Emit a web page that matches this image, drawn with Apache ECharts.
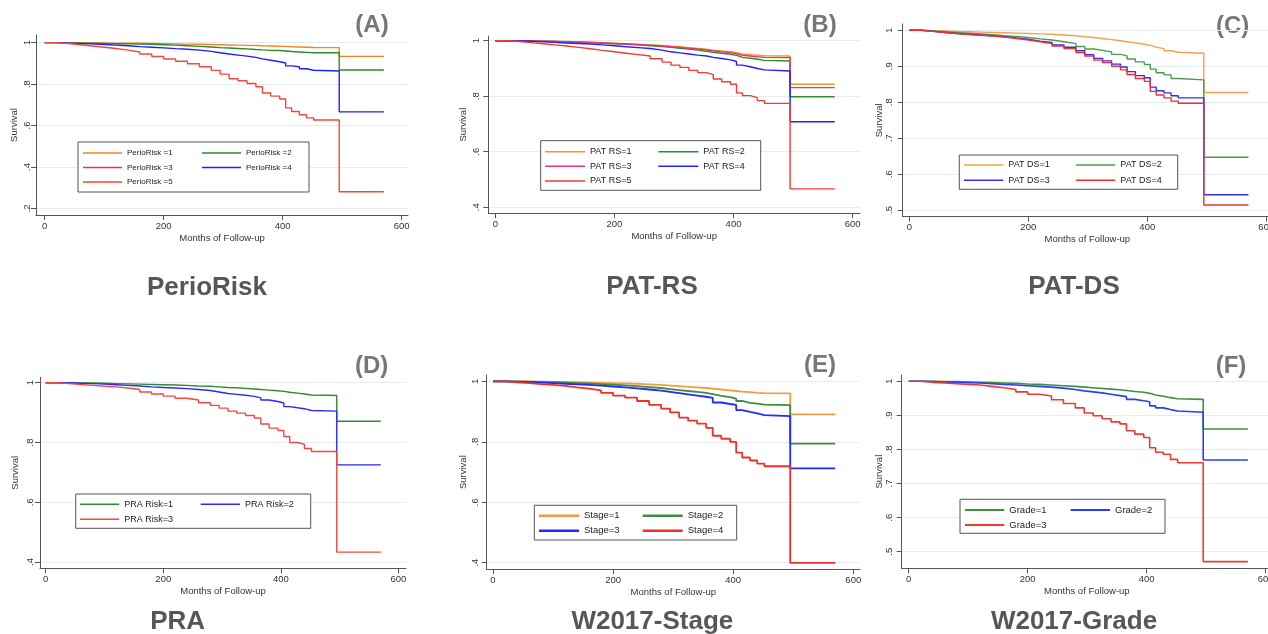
<!DOCTYPE html>
<html>
<head>
<meta charset="utf-8">
<title>Kaplan-Meier survival by periodontal risk tools</title>
<script src="https://cdn.jsdelivr.net/npm/echarts@6/dist/echarts.min.js"></script>
<style>
html, body { margin: 0; padding: 0; background: #fff; }
#chart { width: 1268px; height: 634px; }
</style>
</head>
<body>
<div id="chart"></div>
<script>
// months of follow-up at which every curve is read (step points)
const months = [0, 20, 40, 60, 80, 100, 120, 140, 160, 180, 200, 220, 240, 260, 280, 295, 310, 325, 340, 355, 366, 380, 395, 405, 415, 428, 440, 452, 495, 570];

// (A) PerioRisk
const perioRisk1 = [1, 1, 0.999, 0.999, 0.998, 0.998, 0.997, 0.997, 0.996, 0.995, 0.994, 0.993, 0.992, 0.991, 0.99, 0.989, 0.988, 0.987, 0.986, 0.985, 0.984, 0.983, 0.982, 0.98, 0.979, 0.978, 0.977, 0.976, 0.934, 0.934];
const perioRisk2 = [1, 0.999, 0.998, 0.997, 0.996, 0.995, 0.994, 0.993, 0.992, 0.99, 0.988, 0.985, 0.982, 0.979, 0.976, 0.974, 0.972, 0.97, 0.967, 0.965, 0.963, 0.962, 0.96, 0.957, 0.955, 0.953, 0.951, 0.951, 0.868, 0.868];
const perioRisk3 = []; // listed in the legend, no curve visible
const perioRisk4 = [1, 0.998, 0.996, 0.994, 0.991, 0.988, 0.985, 0.981, 0.978, 0.975, 0.971, 0.968, 0.964, 0.958, 0.951, 0.945, 0.94, 0.935, 0.929, 0.922, 0.915, 0.908, 0.902, 0.888, 0.884, 0.874, 0.867, 0.863, 0.666, 0.666];
const perioRisk5 = [1, 0.996, 0.99, 0.984, 0.978, 0.972, 0.964, 0.955, 0.945, 0.933, 0.921, 0.91, 0.898, 0.884, 0.866, 0.848, 0.826, 0.816, 0.803, 0.787, 0.757, 0.742, 0.728, 0.685, 0.668, 0.652, 0.637, 0.627, 0.28, 0.28];

// (B) PAT-RS
const patRs1 = [1, 1, 0.999, 0.999, 0.998, 0.997, 0.996, 0.995, 0.993, 0.991, 0.989, 0.987, 0.985, 0.983, 0.98, 0.978, 0.975, 0.972, 0.969, 0.966, 0.963, 0.96, 0.957, 0.952, 0.95, 0.948, 0.946, 0.945, 0.843, 0.843];
const patRs2 = [1, 1, 0.999, 0.998, 0.997, 0.996, 0.995, 0.993, 0.991, 0.989, 0.987, 0.985, 0.982, 0.979, 0.976, 0.973, 0.97, 0.966, 0.962, 0.958, 0.955, 0.951, 0.947, 0.94, 0.937, 0.933, 0.929, 0.927, 0.798, 0.798];
const patRs3 = [1, 1, 0.999, 0.998, 0.997, 0.996, 0.995, 0.994, 0.992, 0.99, 0.988, 0.986, 0.984, 0.981, 0.978, 0.976, 0.973, 0.97, 0.967, 0.963, 0.96, 0.957, 0.953, 0.947, 0.945, 0.942, 0.94, 0.939, 0.831, 0.831];
const patRs4 = [1, 0.999, 0.998, 0.996, 0.994, 0.992, 0.99, 0.988, 0.985, 0.982, 0.978, 0.975, 0.972, 0.966, 0.96, 0.956, 0.952, 0.948, 0.945, 0.94, 0.936, 0.931, 0.925, 0.912, 0.906, 0.9, 0.895, 0.891, 0.708, 0.708];
const patRs5 = [1, 0.997, 0.993, 0.989, 0.985, 0.981, 0.976, 0.971, 0.965, 0.96, 0.955, 0.95, 0.945, 0.935, 0.923, 0.912, 0.904, 0.893, 0.885, 0.878, 0.862, 0.852, 0.843, 0.812, 0.802, 0.795, 0.784, 0.774, 0.466, 0.466];

// (C) PAT-DS
const patDs1 = [1, 0.999, 0.998, 0.997, 0.996, 0.995, 0.994, 0.993, 0.992, 0.991, 0.99, 0.989, 0.987, 0.985, 0.982, 0.98, 0.977, 0.974, 0.971, 0.968, 0.965, 0.961, 0.958, 0.953, 0.949, 0.943, 0.939, 0.936, 0.827, 0.827];
const patDs2 = [1, 0.998, 0.996, 0.994, 0.992, 0.99, 0.988, 0.985, 0.983, 0.98, 0.976, 0.973, 0.968, 0.963, 0.955, 0.948, 0.944, 0.94, 0.933, 0.929, 0.92, 0.912, 0.905, 0.892, 0.882, 0.876, 0.866, 0.862, 0.647, 0.647];
const patDs3 = [1, 0.997, 0.994, 0.991, 0.989, 0.987, 0.985, 0.982, 0.979, 0.975, 0.97, 0.966, 0.959, 0.953, 0.943, 0.932, 0.922, 0.915, 0.906, 0.898, 0.885, 0.874, 0.868, 0.842, 0.832, 0.826, 0.818, 0.812, 0.5425, 0.5425];
const patDs4 = [1, 0.997, 0.994, 0.991, 0.988, 0.986, 0.984, 0.981, 0.977, 0.973, 0.968, 0.963, 0.956, 0.949, 0.938, 0.928, 0.917, 0.91, 0.9, 0.89, 0.877, 0.866, 0.858, 0.83, 0.82, 0.812, 0.803, 0.797, 0.514, 0.514];

// (D) PRA
const praRisk1 = [1, 1, 0.999, 0.999, 0.998, 0.997, 0.996, 0.995, 0.994, 0.993, 0.992, 0.991, 0.989, 0.988, 0.986, 0.984, 0.983, 0.981, 0.979, 0.977, 0.975, 0.973, 0.971, 0.968, 0.965, 0.962, 0.959, 0.957, 0.871, 0.871];
const praRisk2 = [1, 0.999, 0.998, 0.997, 0.995, 0.993, 0.991, 0.989, 0.986, 0.984, 0.982, 0.98, 0.977, 0.974, 0.969, 0.964, 0.961, 0.958, 0.954, 0.949, 0.942, 0.937, 0.932, 0.92, 0.916, 0.913, 0.907, 0.905, 0.725, 0.725];
const praRisk3 = [1, 0.997, 0.994, 0.991, 0.988, 0.986, 0.982, 0.977, 0.969, 0.962, 0.955, 0.948, 0.942, 0.933, 0.924, 0.915, 0.905, 0.898, 0.89, 0.882, 0.862, 0.848, 0.84, 0.82, 0.8, 0.794, 0.78, 0.77, 0.433, 0.433];

// (E) W2017-Stage
const stage1 = [1, 1, 0.999, 0.999, 0.998, 0.998, 0.997, 0.996, 0.995, 0.994, 0.993, 0.992, 0.99, 0.988, 0.986, 0.984, 0.982, 0.98, 0.978, 0.976, 0.973, 0.97, 0.968, 0.966, 0.964, 0.962, 0.961, 0.96, 0.891, 0.891];
const stage2 = [1, 0.999, 0.999, 0.998, 0.997, 0.996, 0.994, 0.993, 0.991, 0.989, 0.987, 0.984, 0.981, 0.978, 0.974, 0.971, 0.968, 0.965, 0.962, 0.958, 0.952, 0.948, 0.943, 0.935, 0.929, 0.926, 0.923, 0.921, 0.794, 0.794];
const stage3 = [1, 0.999, 0.998, 0.996, 0.994, 0.992, 0.99, 0.988, 0.986, 0.983, 0.98, 0.977, 0.973, 0.969, 0.965, 0.961, 0.957, 0.953, 0.949, 0.945, 0.93, 0.925, 0.922, 0.905, 0.899, 0.894, 0.888, 0.885, 0.712, 0.712];
const stage4 = [1, 0.997, 0.994, 0.991, 0.988, 0.985, 0.98, 0.976, 0.97, 0.962, 0.953, 0.946, 0.935, 0.922, 0.91, 0.897, 0.88, 0.87, 0.86, 0.846, 0.82, 0.81, 0.8, 0.764, 0.748, 0.738, 0.728, 0.719, 0.399, 0.399];

// (F) W2017-Grade
const grade1 = [1, 1, 0.999, 0.999, 0.998, 0.997, 0.996, 0.995, 0.994, 0.992, 0.991, 0.989, 0.987, 0.985, 0.983, 0.981, 0.979, 0.977, 0.975, 0.973, 0.97, 0.968, 0.965, 0.96, 0.956, 0.952, 0.949, 0.947, 0.86, 0.86];
const grade2 = [1, 0.999, 0.998, 0.997, 0.996, 0.995, 0.993, 0.991, 0.989, 0.987, 0.985, 0.983, 0.98, 0.976, 0.972, 0.969, 0.966, 0.962, 0.958, 0.955, 0.947, 0.943, 0.94, 0.928, 0.922, 0.917, 0.913, 0.909, 0.769, 0.769];
const grade3 = [1, 0.997, 0.995, 0.993, 0.991, 0.989, 0.985, 0.981, 0.976, 0.969, 0.962, 0.957, 0.946, 0.935, 0.922, 0.907, 0.899, 0.89, 0.881, 0.875, 0.855, 0.845, 0.835, 0.805, 0.792, 0.786, 0.771, 0.761, 0.471, 0.471];

const xTicks = [0, 200, 400, 600];
const yTicksWide = [0.2, 0.4, 0.6, 0.8, 1];
const yTicksMid = [0.4, 0.6, 0.8, 1];
const yTicksTenths = [0.5, 0.6, 0.7, 0.8, 0.9, 1];

const FONT = '"Liberation Sans", Arial, Helvetica, sans-serif';

const panels = [
  {
    tag: '(A)', title: 'PerioRisk', tagPos: [372, 25], titlePos: [207, 288],
    grid: {left: 36, top: 35, width: 372, height: 180},
    x: [-14.6, 610.6], y: [0.168, 1.037], yTicks: yTicksWide,
    yLabelMargin: 4, yNameGap: 17, lineWidth: 1.4,
    series: [
      {name: 'PerioRisk =1', data: perioRisk1, color: '#f5841f'},
      {name: 'PerioRisk =2', data: perioRisk2, color: '#2b8a2b'},
      {name: 'PerioRisk =3', data: perioRisk3, color: '#e5307a'},
      {name: 'PerioRisk =4', data: perioRisk4, color: '#1f1fff'},
      {name: 'PerioRisk =5', data: perioRisk5, color: '#f4473d'}
    ],
    legend: {box: [78, 142, 309, 192], x1: 83, x2: 202, w: 39, rows: [153, 168, 182], font: 8, lw: 1.5}
  },
  {
    tag: '(B)', title: 'PAT-RS', tagPos: [820, 25], titlePos: [652, 287],
    grid: {left: 488.3, top: 36, width: 371.7, height: 177.3},
    x: [-11.8, 612.4], y: [0.378, 1.017], yTicks: yTicksMid,
    yLabelMargin: 6.5, yNameGap: 20, lineWidth: 1.4,
    series: [
      {name: 'PAT RS=1', data: patRs1, color: '#f7931e'},
      {name: 'PAT RS=2', data: patRs2, color: '#2e8b2e'},
      {name: 'PAT RS=3', data: patRs3, color: '#e8337f'},
      {name: 'PAT RS=4', data: patRs4, color: '#2222ff'},
      {name: 'PAT RS=5', data: patRs5, color: '#f23c32'}
    ],
    legend: {box: [540.7, 140.7, 760.7, 190.3], x1: 545, x2: 658.3, w: 40, rows: [151.7, 166.3, 181], font: 9, lw: 1.5}
  },
  {
    tag: '(C)', title: 'PAT-DS', tagPos: [1232.7, 26.7], titlePos: [1074, 286.7],
    grid: {left: 902.7, top: 24, width: 369.3, height: 192.7},
    x: [-11.1, 609.6], y: [0.4814, 1.0175], yTicks: yTicksTenths,
    yLabelMargin: 8.4, yNameGap: 18.4, lineWidth: 1.4,
    series: [
      {name: 'PAT DS=1', data: patDs1, color: '#f6a04d'},
      {name: 'PAT DS=2', data: patDs2, color: '#4f9a4f'},
      {name: 'PAT DS=3', data: patDs3, color: '#2f2ff5'},
      {name: 'PAT DS=4', data: patDs4, color: '#ee3030'}
    ],
    legend: {box: [959.3, 155, 1177.7, 189.3], x1: 964, x2: 1076, w: 39.3, rows: [165, 180.3], font: 9, lw: 1.5}
  },
  {
    tag: '(D)', title: 'PRA', tagPos: [371.7, 366.7], titlePos: [177.7, 621.7],
    grid: {left: 40, top: 377.3, width: 366, height: 191},
    x: [-9.7, 612.8], y: [0.379, 1.018], yTicks: yTicksMid,
    yLabelMargin: 4.3, yNameGap: 20, lineWidth: 1.4,
    series: [
      {name: 'PRA Risk=1', data: praRisk1, color: '#2e8b2e'},
      {name: 'PRA Risk=2', data: praRisk2, color: '#2a2aff'},
      {name: 'PRA Risk=3', data: praRisk3, color: '#f24a40'}
    ],
    legend: {box: [75.7, 494, 310.7, 528.3], x1: 80, x2: 200.7, w: 39.3, rows: [504.3, 519.3], font: 9, lw: 1.5}
  },
  {
    tag: '(E)', title: 'W2017-Stage', tagPos: [820, 365], titlePos: [652.3, 621.7],
    grid: {left: 486.7, top: 375, width: 373.3, height: 194.3},
    x: [-10.5, 611.2], y: [0.378, 1.021], yTicks: yTicksMid,
    yLabelMargin: 6.7, yNameGap: 18.4, lineWidth: 1.8,
    series: [
      {name: 'Stage=1', data: stage1, color: '#f49a42'},
      {name: 'Stage=2', data: stage2, color: '#3d8f3d'},
      {name: 'Stage=3', data: stage3, color: '#1f2bff'},
      {name: 'Stage=4', data: stage4, color: '#f03028'}
    ],
    legend: {box: [534.3, 505.3, 736.7, 540], x1: 539, x2: 642.7, w: 40, rows: [515.7, 530.7], font: 9.5, lw: 2.5}
  },
  {
    tag: '(F)', title: 'W2017-Grade', tagPos: [1231, 366.7], titlePos: [1074, 621.7],
    grid: {left: 901.7, top: 375, width: 370.3, height: 193.3},
    x: [-11.8, 610.6], y: [0.4513, 1.0185], yTicks: yTicksTenths,
    yLabelMargin: 7.4, yNameGap: 17.4, lineWidth: 1.6,
    series: [
      {name: 'Grade=1', data: grade1, color: '#3f8f3f'},
      {name: 'Grade=2', data: grade2, color: '#2a3cff'},
      {name: 'Grade=3', data: grade3, color: '#ef3a32'}
    ],
    legend: {box: [960, 499.3, 1165, 533.3], x1: 965, x2: 1070.7, w: 39.3, rows: [510, 525], font: 9.5, lw: 2}
  }
];

function yLabel(v) {
  return v >= 1 ? '1' : v.toFixed(1).replace(/^0/, '');
}

function buildLegend(p) {
  const L = p.legend;
  const gap = 3;
  const n = L.rows.length;
  const pitch = (L.rows[n - 1] - L.rows[0]) / (n - 1);
  const lh = pitch - gap;
  const tw1 = L.x2 - L.x1 - L.w - 5 - gap;
  const tw2 = L.box[2] - 6 - (L.x2 + L.w + 5);
  const contentW = L.x2 - L.x1 + L.w + 5 + tw2;
  return {
    left: L.box[0],
    top: L.box[1],
    width: contentW + 2,
    orient: 'horizontal',
    selectedMode: false,
    icon: 'rect',
    itemWidth: L.w,
    itemHeight: L.lw,
    itemGap: gap,
    padding: [
      L.rows[0] - lh / 2 - L.box[1],
      L.box[2] - L.x1 - contentW,
      L.box[3] - L.rows[n - 1] - lh / 2,
      L.x1 - L.box[0]
    ],
    backgroundColor: '#fff',
    borderColor: '#555',
    borderWidth: 1,
    borderRadius: 0,
    textStyle: {
      fontFamily: FONT, fontSize: L.font, color: '#222',
      lineHeight: lh, backgroundColor: 'rgba(255,255,255,0)'
    },
    data: p.series.map((s, i) => ({
      name: s.name,
      textStyle: {width: i % 2 === 0 ? tw1 : tw2}
    }))
  };
}

const option = {
  animation: false,
  backgroundColor: '#fff',
  textStyle: {fontFamily: FONT},
  grid: [], xAxis: [], yAxis: [], series: [], legend: [], graphic: []
};

panels.forEach((p, k) => {
  option.grid.push(Object.assign({outerBoundsMode: 'none', containLabel: false}, p.grid));
  option.xAxis.push({
    type: 'value', gridIndex: k, min: p.x[0], max: p.x[1],
    name: 'Months of Follow-up', nameLocation: 'middle', nameGap: 18, nameMoveOverlap: false,
    nameTextStyle: {fontSize: 9.5, color: '#333', fontFamily: FONT},
    axisLine: {onZero: false, lineStyle: {color: '#555', width: 1}},
    axisTick: {customValues: xTicks, length: 5, lineStyle: {color: '#555'}},
    axisLabel: {customValues: xTicks, margin: 6, fontSize: 9.5, color: '#333', fontFamily: FONT},
    splitLine: {show: false}
  });
  option.yAxis.push({
    type: 'value', gridIndex: k, min: p.y[0], max: p.y[1],
    name: 'Survival', nameLocation: 'middle', nameGap: p.yNameGap, nameMoveOverlap: false,
    nameTextStyle: {fontSize: 9.5, color: '#333', fontFamily: FONT},
    axisLine: {show: true, onZero: false, lineStyle: {color: '#555', width: 1}},
    axisTick: {show: true, customValues: p.yTicks, length: 5, lineStyle: {color: '#555'}},
    axisLabel: {customValues: p.yTicks, rotate: 90, margin: p.yLabelMargin, fontSize: 9.5, color: '#333',
      fontFamily: FONT, formatter: yLabel},
    splitLine: {show: true, lineStyle: {color: '#e4edef', width: 1}}
  });
  p.series.forEach(s => {
    option.series.push({
      type: 'line', name: s.name, xAxisIndex: k, yAxisIndex: k,
      step: 'end', symbol: 'none', showSymbol: false,
      color: s.color,
      lineStyle: {color: s.color, width: p.lineWidth},
      data: s.data.map((v, i) => [months[i], v])
    });
  });
  option.legend.push(buildLegend(p));
  option.graphic.push({
    type: 'text', x: p.tagPos[0], y: p.tagPos[1],
    style: {text: p.tag, fontFamily: FONT, fontSize: 24, fontWeight: 'bold', fill: '#777',
      align: 'center', verticalAlign: 'middle'}
  });
  option.graphic.push({
    type: 'text', x: p.titlePos[0], y: p.titlePos[1],
    style: {text: p.title, fontFamily: FONT, fontSize: 26, fontWeight: 'bold', fill: '#575757',
      align: 'center', verticalAlign: 'middle'}
  });
});

const chart = echarts.init(document.getElementById('chart'), null, {renderer: 'canvas'});
chart.setOption(option);
</script>
</body>
</html>
